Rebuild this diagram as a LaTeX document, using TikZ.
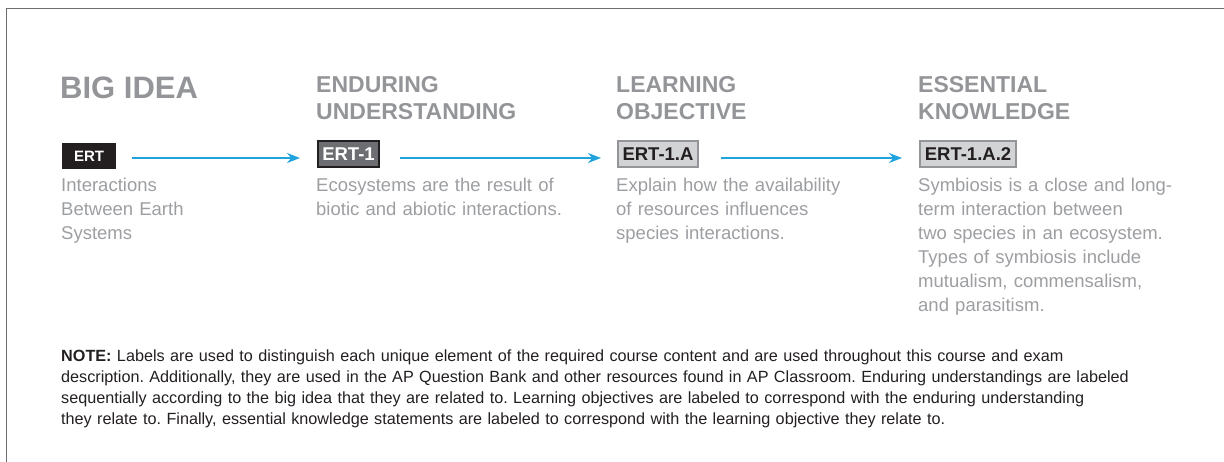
\documentclass[tikz,border=0pt]{standalone}
\usepackage{fontspec}
\setmainfont{Liberation Sans}
\usetikzlibrary{arrows.meta}
\frenchspacing
\definecolor{hdr}{HTML}{939598}
\definecolor{body}{HTML}{9C9EA1}
\definecolor{ink}{HTML}{231F20}
\definecolor{dk}{HTML}{6D6E71}
\definecolor{lt}{HTML}{D1D3D4}
\definecolor{arr}{HTML}{1FA3DC}
\tikzset{
  x=1pt,y=1pt,
  hdrtext/.style={anchor=north west,inner sep=0pt,text width=300pt,align=left,text=hdr,font=\bfseries\fontsize{23}{27}\selectfont},
  bodytext/.style={anchor=north west,inner sep=0pt,text width=300pt,align=left,text=body,font=\fontsize{18.5}{24}\selectfont},
  lblbase/.style={inner sep=0pt,font=\bfseries\fontsize{18.5}{20}\selectfont,minimum height=26pt},
  lblblack/.style={lblbase,fill=ink,text=white,font=\bfseries\fontsize{15}{16}\selectfont},
  lbldark/.style={lblbase,fill=dk,draw=ink,line width=2pt,text=white},
  lbllight/.style={lblbase,fill=lt,draw=hdr,line width=2pt,text=ink},
  flow/.style={draw=arr,line width=1.5pt,-{Stealth[length=13pt,width=10pt]}},
  frame/.style={draw=dk,line width=1.5pt}
}
\begin{document}
\begin{tikzpicture}
\useasboundingbox (0,0) rectangle (1224,462);
\coordinate (fa) at (6.5,0);
\coordinate (fb) at (6.5,453.5);
\coordinate (fc) at (1224,453.5);
\draw[frame] (fa) -- (fb) -- (fc);

% headers
\node[anchor=base west,inner sep=0pt,text=hdr,font=\bfseries\fontsize{31}{34}\selectfont] (h1) at (60,363) {BIG IDEA};
\node[hdrtext] (h2) at (316,385.5) {ENDURING\\UNDERSTANDING};
\node[hdrtext] (h3) at (616,385.5) {LEARNING\\OBJECTIVE};
\node[hdrtext] (h4) at (918,385.5) {ESSENTIAL\\KNOWLEDGE};

% labels
\node[lblblack,minimum width=54pt] (l1) at (89,306) {ERT};
\node[lbldark,minimum width=61pt] (l2) at (348.5,308) {ERT-1};
\node[lbllight,minimum width=80pt] (l3) at (658,308) {ERT-1.A};
\node[lbllight,minimum width=96pt] (l4) at (968,308) {ERT-1.A.2};

% arrows
\draw[flow] ([xshift=16pt,yshift=-2pt]l1.east) -- ([xshift=-17pt,yshift=-2pt]l2.west |- l1.east);
\draw[flow] ([xshift=20pt,yshift=-4pt]l2.east) -- ([xshift=-16pt,yshift=-4pt]l3.west);
\draw[flow] ([xshift=22pt,yshift=-4pt]l3.east) -- ([xshift=-17pt,yshift=-4pt]l4.west);

% body texts
\node[bodytext] (b1) at (61,284.5) {Interactions\\Between Earth\\Systems};
\node[bodytext] (b2) at (316,284.5) {Ecosystems are the result of\\biotic and abiotic interactions.};
\node[bodytext] (b3) at (616,284.5) {Explain how the availability\\of resources influences\\species interactions.};
\node[bodytext] (b4) at (918,284.5) {Symbiosis is a close and long-\\term interaction between\\two species in an ecosystem.\\Types of symbiosis include\\mutualism, commensalism,\\and parasitism.};

% note
\node[anchor=north west,inner sep=0pt,text width=1150pt,align=left,text=ink,font=\fontsize{16.2}{21}\selectfont] (note) at (61,112.7) {\textbf{NOTE:} Labels are used to distinguish each unique element of the required course content and are used throughout this course and exam\\description. Additionally, they are used in the AP Question Bank and other resources found in AP Classroom. Enduring understandings are labeled\\sequentially according to the big idea that they are related to. Learning objectives are labeled to correspond with the enduring understanding\\they relate to. Finally, essential knowledge statements are labeled to correspond with the learning objective they relate to.};
\end{tikzpicture}
\end{document}
